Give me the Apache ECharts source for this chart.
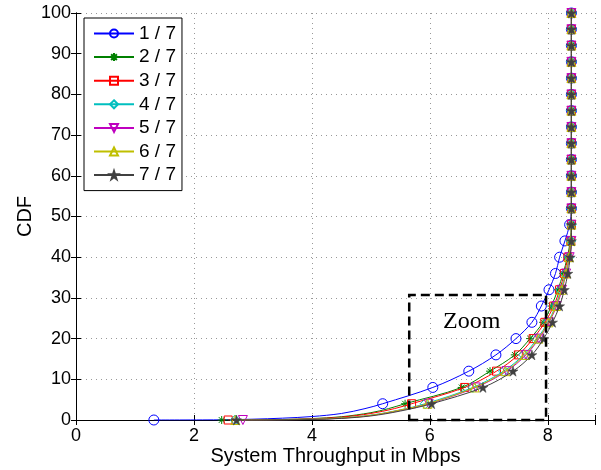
<!DOCTYPE html>
<html>
<head>
<meta charset="utf-8">
<script src="https://cdn.jsdelivr.net/npm/echarts@6/dist/echarts.min.js"></script>
<style>
  html, body { margin: 0; padding: 0; background: #fff; }
  #chart { width: 601px; height: 470px; }
</style>
</head>
<body>
<div id="chart"></div>
<script>
// CDF levels (percent) where the markers sit
const levels = [0, 4, 8, 12, 16, 20, 24, 28, 32, 36, 40, 44, 48, 52, 56, 60, 64, 68, 72, 76, 80, 84, 88, 92, 96, 100];

// throughput (Mbps) at each level
const top13 = [8.4, 8.4, 8.4, 8.4, 8.4, 8.4, 8.4, 8.4, 8.4, 8.4, 8.4, 8.4, 8.4];
const thr1 = [1.32, 5.2, 6.05, 6.66, 7.12, 7.46, 7.73, 7.89, 8.02, 8.13, 8.2, 8.29, 8.37].concat(top13);
const thr2 = [2.47, 5.58, 6.54, 7.02, 7.44, 7.7, 7.92, 8.06, 8.17, 8.26, 8.33, 8.38, 8.4].concat(top13);
const thr3 = [2.58, 5.69, 6.59, 7.13, 7.5, 7.75, 7.95, 8.1, 8.2, 8.28, 8.34, 8.39, 8.4].concat(top13);
const thr4 = [2.7, 5.92, 6.73, 7.25, 7.59, 7.82, 8.0, 8.13, 8.22, 8.3, 8.36, 8.39, 8.4].concat(top13);
const thr5 = [2.83, 5.98, 6.78, 7.3, 7.63, 7.85, 8.02, 8.15, 8.24, 8.31, 8.37, 8.4, 8.4].concat(top13);
const thr6 = [2.7, 5.96, 6.76, 7.28, 7.61, 7.84, 8.01, 8.14, 8.23, 8.31, 8.36, 8.39, 8.4].concat(top13);
const thr7 = [2.72, 6.03, 6.9, 7.41, 7.73, 7.93, 8.08, 8.2, 8.28, 8.34, 8.38, 8.4, 8.4].concat(top13);

// low tail between the first two markers: [throughput, cdf]
const tail1 = [[2.5, 0.05], [3.0, 0.2], [3.5, 0.45], [4.0, 0.85], [4.5, 1.6], [4.9, 2.8]];
const tail2 = [[3.0, 0.03], [3.5, 0.12], [4.0, 0.35], [4.5, 0.8], [5.0, 1.8], [5.3, 2.8]];
const tail3 = [[3.0, 0.02], [3.5, 0.1], [4.0, 0.3], [4.5, 0.7], [5.0, 1.6], [5.4, 2.8]];
const tail4 = [[3.2, 0.03], [4.0, 0.2], [4.5, 0.5], [5.0, 1.2], [5.5, 2.5]];
const tail5 = [[3.2, 0.02], [4.0, 0.15], [4.5, 0.45], [5.0, 1.1], [5.5, 2.4]];
const tail6 = [[3.2, 0.03], [4.0, 0.18], [4.5, 0.5], [5.0, 1.15], [5.5, 2.45]];
const tail7 = [[3.2, 0.02], [4.0, 0.12], [4.5, 0.4], [5.0, 1.0], [5.5, 2.2]];

const names = ['1 / 7', '2 / 7', '3 / 7', '4 / 7', '5 / 7', '6 / 7', '7 / 7'];
const xTicks = [0, 2, 4, 6, 8];

// dashed "Zoom" box, data coordinates
const zoomX = [5.65, 7.97];
const zoomY = [0, 30.7];

const asterisk = 'path://M0,-5L0,5M-5,0L5,0M-3.6,-3.6L3.6,3.6M-3.6,3.6L3.6,-3.6';
const star = 'path://M0,-10L2.23,-3.07L9.51,-3.09L3.61,1.17L5.88,8.09L0,3.8L-5.88,8.09L-3.61,1.17L-9.51,-3.09L-2.23,-3.07Z';

const looks = [
  { color: '#0000ff', symbol: 'circle', size: 10 },
  { color: '#008000', symbol: asterisk, size: 8 },
  { color: '#ff0000', symbol: 'rect', size: 8 },
  { color: '#00bfbf', symbol: 'diamond', size: 10 },
  { color: '#bf00bf', symbol: 'triangle', size: 9, rotate: 180 },
  { color: '#bfbf00', symbol: 'triangle', size: 9 },
  { color: '#404040', symbol: star, size: 10 }
];

const thr = [thr1, thr2, thr3, thr4, thr5, thr6, thr7];
const tails = [tail1, tail2, tail3, tail4, tail5, tail6, tail7];

function buildData(xs, tail) {
  const d = [[xs[0], levels[0]]];
  tail.forEach(p => d.push({ value: p, symbol: 'none' }));
  for (let i = 1; i < xs.length; i++) d.push([xs[i], levels[i]]);
  return d;
}

const chart = echarts.init(document.getElementById('chart'));
const font = 'Liberation Sans, Arial, Helvetica, sans-serif';

const series = names.map((name, i) => {
  const lk = looks[i];
  const s = {
    name: name,
    type: 'line',
    data: buildData(thr[i], tails[i]),
    smooth: 0.35,
    symbol: lk.symbol,
    symbolSize: lk.size,
    symbolRotate: lk.rotate || 0,
    showAllSymbol: true,
    lineStyle: { color: lk.color, width: 1 },
    itemStyle: { color: 'rgba(0,0,0,0)', borderColor: lk.color, borderWidth: 1 },
    emphasis: { disabled: true },
    animation: false,
    z: 2 + i
  };
  if (i === 6) {
    s.itemStyle = { color: lk.color, borderColor: lk.color, borderWidth: 0.5 };
  }
  return s;
});

series[0].markArea = {
  silent: true,
  z: 20,
  itemStyle: {
    color: 'rgba(0,0,0,0)',
    borderColor: '#000',
    borderWidth: 2.5,
    borderType: [9, 5]
  },
  label: {
    show: true,
    position: 'insideTop',
    distance: 16,
    formatter: 'Zoom',
    fontFamily: 'Liberation Serif, Times New Roman, serif',
    fontSize: 24,
    color: '#000',
    offset: [-6, 0]
  },
  data: [[{ coord: [zoomX[0], zoomY[0]] }, { coord: [zoomX[1], zoomY[1]] }]]
};

const option = {
  backgroundColor: '#fff',
  animation: false,
  textStyle: { fontFamily: font },
  grid: { left: 76, right: 6, top: 13, bottom: 50, outerBoundsMode: 'none', containLabel: false },
  legend: {
    orient: 'vertical',
    left: 84,
    top: 18,
    data: names,
    itemWidth: 40,
    itemHeight: 10,
    itemGap: 4.6,
    padding: [6, 6, 6, 9],
    borderColor: '#000',
    borderWidth: 1,
    backgroundColor: '#fff',
    textStyle: { fontSize: 19, color: '#000', fontFamily: font, lineHeight: 19 },
    z: 30
  },
  xAxis: [
    {
      type: 'value',
      min: 0,
      max: 8.8,
      interval: 2,
      name: 'System Throughput in Mbps',
      nameLocation: 'middle',
      nameGap: 26,
      nameMoveOverlap: false,
      nameTextStyle: { fontSize: 20, color: '#000', fontFamily: font },
      axisLine: { show: true, onZero: false, lineStyle: { color: '#000', width: 1 } },
      axisTick: { show: true, inside: true, length: 5, lineStyle: { color: '#000' } },
      axisLabel: {
        fontSize: 18, color: '#000', margin: 7, fontFamily: font,
        formatter: v => (xTicks.indexOf(v) >= 0 ? String(v) : '')
      },
      splitLine: { show: true, lineStyle: { color: '#999', type: [1, 4], width: 1 } }
    },
    {
      type: 'value',
      position: 'top',
      min: 0,
      max: 8.8,
      interval: 2,
      axisLine: { show: true, lineStyle: { color: '#000', width: 1 } },
      axisTick: { show: true, inside: true, length: 5, lineStyle: { color: '#000' } },
      axisLabel: { show: false },
      splitLine: { show: false }
    }
  ],
  yAxis: [
    {
      type: 'value',
      min: 0,
      max: 100,
      interval: 10,
      name: 'CDF',
      nameLocation: 'middle',
      nameGap: 41,
      nameMoveOverlap: false,
      nameTextStyle: { fontSize: 20, color: '#000', fontFamily: font },
      axisLine: { show: true, onZero: false, lineStyle: { color: '#000', width: 1 } },
      axisTick: { show: true, inside: true, length: 5, lineStyle: { color: '#000' } },
      axisLabel: { fontSize: 18, color: '#000', margin: 5, fontFamily: font },
      splitLine: { show: true, lineStyle: { color: '#999', type: [1, 4], width: 1 } }
    },
    {
      type: 'value',
      position: 'right',
      min: 0,
      max: 100,
      interval: 10,
      axisLine: { show: true, lineStyle: { color: '#000', width: 1 } },
      axisTick: { show: true, inside: true, length: 5, lineStyle: { color: '#000' } },
      axisLabel: { show: false },
      splitLine: { show: false }
    }
  ],
  series: series
};

chart.setOption(option);
</script>
</body>
</html>
